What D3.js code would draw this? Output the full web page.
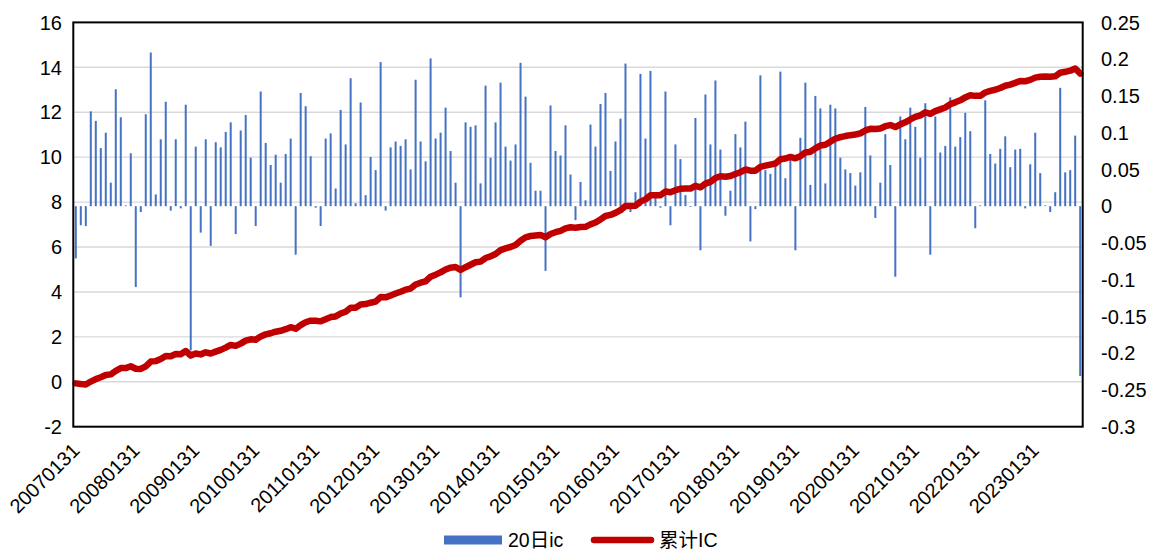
<!DOCTYPE html>
<html>
<head>
<meta charset="utf-8">
<script src="https://cdn.jsdelivr.net/npm/d3@7"></script>
<style>
  html, body { margin: 0; padding: 0; background: #fff; }
  svg { display: block; font-family: "Liberation Sans", Arial, "Noto Sans CJK SC", sans-serif; }
</style>
</head>
<body>
<svg id="chart" width="1161" height="558"></svg>
<script>
// ---- data ----
// monthly categories 2007-01 .. 2023-10 (202 months)
const months = d3.timeMonth.range(new Date(2007, 0, 1), new Date(2023, 10, 1)).map(d3.timeFormat("%Y%m"));

const xTickLabels = ["20070131","20080131","20090131","20100131","20110131","20120131","20130131",
  "20140131","20150131","20160131","20170131","20180131","20190131","20200131","20210131",
  "20220131","20230131"];

const leftTicks = [16, 14, 12, 10, 8, 6, 4, 2, 0, -2];
const rightTicks = [0.25, 0.2, 0.15, 0.1, 0.05, 0, -0.05, -0.1, -0.15, -0.2, -0.25, -0.3];

// 20日ic (right axis)
const ic20 = [
 -0.071,-0.026,-0.027,0.129,0.116,0.079,0.100,0.032,0.159,0.121,
 0.001,0.072,-0.110,-0.008,0.125,0.209,0.016,0.091,0.142,-0.006,
 0.091,-0.003,0.138,-0.196,0.081,-0.036,0.091,-0.054,0.087,0.080,
 0.101,0.114,-0.038,0.103,0.124,0.066,-0.027,0.156,0.086,0.056,
 0.070,0.032,0.071,0.092,-0.066,0.154,0.136,0.068,-0.002,-0.027,
 0.092,0.099,0.024,0.131,0.084,0.174,0.004,0.141,0.015,0.067,
 0.049,0.196,-0.006,0.080,0.088,0.082,0.091,0.050,0.172,0.088,
 0.061,0.201,0.092,0.100,0.134,0.075,0.032,-0.124,0.114,0.108,
 0.110,0.031,0.164,0.066,0.114,0.168,0.081,0.062,0.084,0.195,
 0.149,0.059,0.021,0.021,-0.088,0.137,0.075,0.069,0.110,0.043,
 -0.019,0.033,0.008,0.111,0.081,0.139,0.154,0.048,0.088,0.119,
 0.194,-0.008,0.019,0.180,0.092,0.184,0.013,-0.002,0.156,-0.026,
 0.084,0.064,0.015,-0.001,0.120,-0.060,0.152,0.084,0.171,0.077,
 -0.013,0.021,0.098,0.080,0.115,-0.048,-0.004,0.178,0.049,0.044,
 0.055,0.183,0.038,0.065,-0.060,0.093,0.168,0.029,0.150,0.133,
 0.031,0.138,0.133,0.066,0.050,0.045,0.028,0.046,0.135,0.069,
 -0.016,0.032,0.098,0.056,-0.096,0.122,0.091,0.134,0.108,0.066,
 0.140,-0.066,0.122,0.073,0.082,0.148,0.081,0.094,0.127,0.102,
 -0.030,0.001,0.144,0.071,0.058,0.078,0.095,0.053,0.077,0.078,
 -0.003,0.057,0.100,0.045,0.001,-0.008,0.019,0.161,0.046,0.049,
 0.096,-0.231
];

// 累计IC (left axis)
const cumIC = [
 -0.07,-0.10,-0.12,0.01,0.12,0.20,0.30,0.33,0.49,0.61,
 0.61,0.69,0.58,0.57,0.69,0.90,0.92,1.01,1.15,1.14,
 1.24,1.23,1.37,1.17,1.26,1.22,1.31,1.26,1.34,1.42,
 1.52,1.64,1.60,1.70,1.83,1.89,1.87,2.02,2.11,2.16,
 2.23,2.27,2.34,2.43,2.36,2.52,2.65,2.72,2.72,2.69,
 2.78,2.88,2.91,3.04,3.12,3.30,3.30,3.44,3.46,3.52,
 3.57,3.77,3.76,3.84,3.93,4.01,4.10,4.15,4.33,4.41,
 4.47,4.68,4.77,4.87,5.00,5.08,5.11,4.98,5.10,5.21,
 5.32,5.35,5.51,5.58,5.69,5.86,5.94,6.00,6.09,6.28,
 6.43,6.49,6.51,6.53,6.44,6.58,6.66,6.72,6.83,6.88,
 6.86,6.89,6.90,7.01,7.09,7.23,7.38,7.43,7.52,7.64,
 7.83,7.83,7.84,8.02,8.12,8.30,8.31,8.31,8.47,8.44,
 8.53,8.59,8.60,8.60,8.72,8.66,8.82,8.90,9.07,9.15,
 9.13,9.16,9.25,9.33,9.45,9.40,9.40,9.57,9.62,9.67,
 9.72,9.91,9.94,10.01,9.95,10.04,10.21,10.24,10.39,10.52,
 10.55,10.69,10.82,10.89,10.94,10.98,11.01,11.06,11.19,11.26,
 11.25,11.28,11.38,11.43,11.34,11.46,11.55,11.68,11.79,11.86,
 12.00,11.93,12.05,12.13,12.21,12.36,12.44,12.53,12.66,12.76,
 12.73,12.73,12.88,12.95,13.00,13.08,13.18,13.23,13.31,13.39,
 13.38,13.44,13.54,13.58,13.59,13.58,13.60,13.76,13.80,13.85,
 13.95,13.72
];

const seriesNames = ["20日ic", "累计IC"];
const colors = { bar: "#4472C4", line: "#C00000" };

// ---- layout ----
const plot = { left: 73.3, right: 1082.7, top: 22.4, bottom: 426.7 };
const svg = d3.select("#chart");

const x = d3.scaleBand().domain(months).range([plot.left, plot.right]).padding(0);
const yL = d3.scaleLinear().domain([-2, 16]).range([plot.bottom, plot.top]);
const yR = d3.scaleLinear().domain([-0.3, 0.25]).range([plot.bottom, plot.top]);
const cx = m => x(m) + x.bandwidth() / 2;

// gridlines
svg.append("g").selectAll("line")
  .data(leftTicks.filter(v => v > -2 && v < 16))
  .join("line")
  .attr("x1", plot.left).attr("x2", plot.right)
  .attr("y1", d => yL(d)).attr("y2", d => yL(d))
  .attr("stroke", "#D9D9D9").attr("stroke-width", 1.4);

// bars
const barW = 2;
svg.append("g").selectAll("rect")
  .data(ic20.map((v, i) => ({ m: months[i], v })))
  .join("rect")
  .attr("x", d => cx(d.m) - barW / 2)
  .attr("width", barW)
  .attr("y", d => Math.min(yR(d.v), yR(0)))
  .attr("height", d => Math.abs(yR(d.v) - yR(0)))
  .attr("fill", colors.bar);

// cumulative line
const line = d3.line().x((d, i) => cx(months[i])).y(d => yL(d));
svg.append("path")
  .datum(cumIC)
  .attr("d", line)
  .attr("fill", "none")
  .attr("stroke", colors.line)
  .attr("stroke-width", 6.5)
  .attr("stroke-linejoin", "round")
  .attr("stroke-linecap", "round");

// plot border
svg.append("rect")
  .attr("x", plot.left).attr("y", plot.top)
  .attr("width", plot.right - plot.left).attr("height", plot.bottom - plot.top)
  .attr("fill", "none").attr("stroke", "#000").attr("stroke-width", 2);

// left axis labels
svg.append("g").selectAll("text")
  .data(leftTicks).join("text")
  .attr("x", 62).attr("y", d => yL(d)).attr("dy", "0.36em")
  .attr("text-anchor", "end").attr("font-size", 20).attr("fill", "#000")
  .text(d => d);

// right axis labels
svg.append("g").selectAll("text")
  .data(rightTicks).join("text")
  .attr("x", 1101).attr("y", d => yR(d)).attr("dy", "0.36em")
  .attr("text-anchor", "start").attr("font-size", 20).attr("fill", "#000")
  .text(d => d);

// x tick labels
svg.append("g").selectAll("text")
  .data(xTickLabels).join("text")
  .attr("transform", d => `translate(${cx(d.slice(0, 6)) + 5},${plot.bottom + 25}) rotate(-45)`)
  .attr("text-anchor", "end").attr("font-size", 20).attr("fill", "#000")
  .text(d => d);

// legend
const lg = svg.append("g");
lg.append("rect").attr("x", 444).attr("y", 535.5).attr("width", 58).attr("height", 9).attr("fill", colors.bar);
lg.append("text").attr("x", 508).attr("y", 547).attr("font-size", 19.5).attr("fill", "#000").text(seriesNames[0]);
lg.append("line").attr("x1", 594).attr("x2", 651).attr("y1", 540).attr("y2", 540)
  .attr("stroke", colors.line).attr("stroke-width", 6.5).attr("stroke-linecap", "round");
lg.append("text").attr("x", 659).attr("y", 547).attr("font-size", 19.5).attr("fill", "#000").text(seriesNames[1]);
</script>
</body>
</html>
